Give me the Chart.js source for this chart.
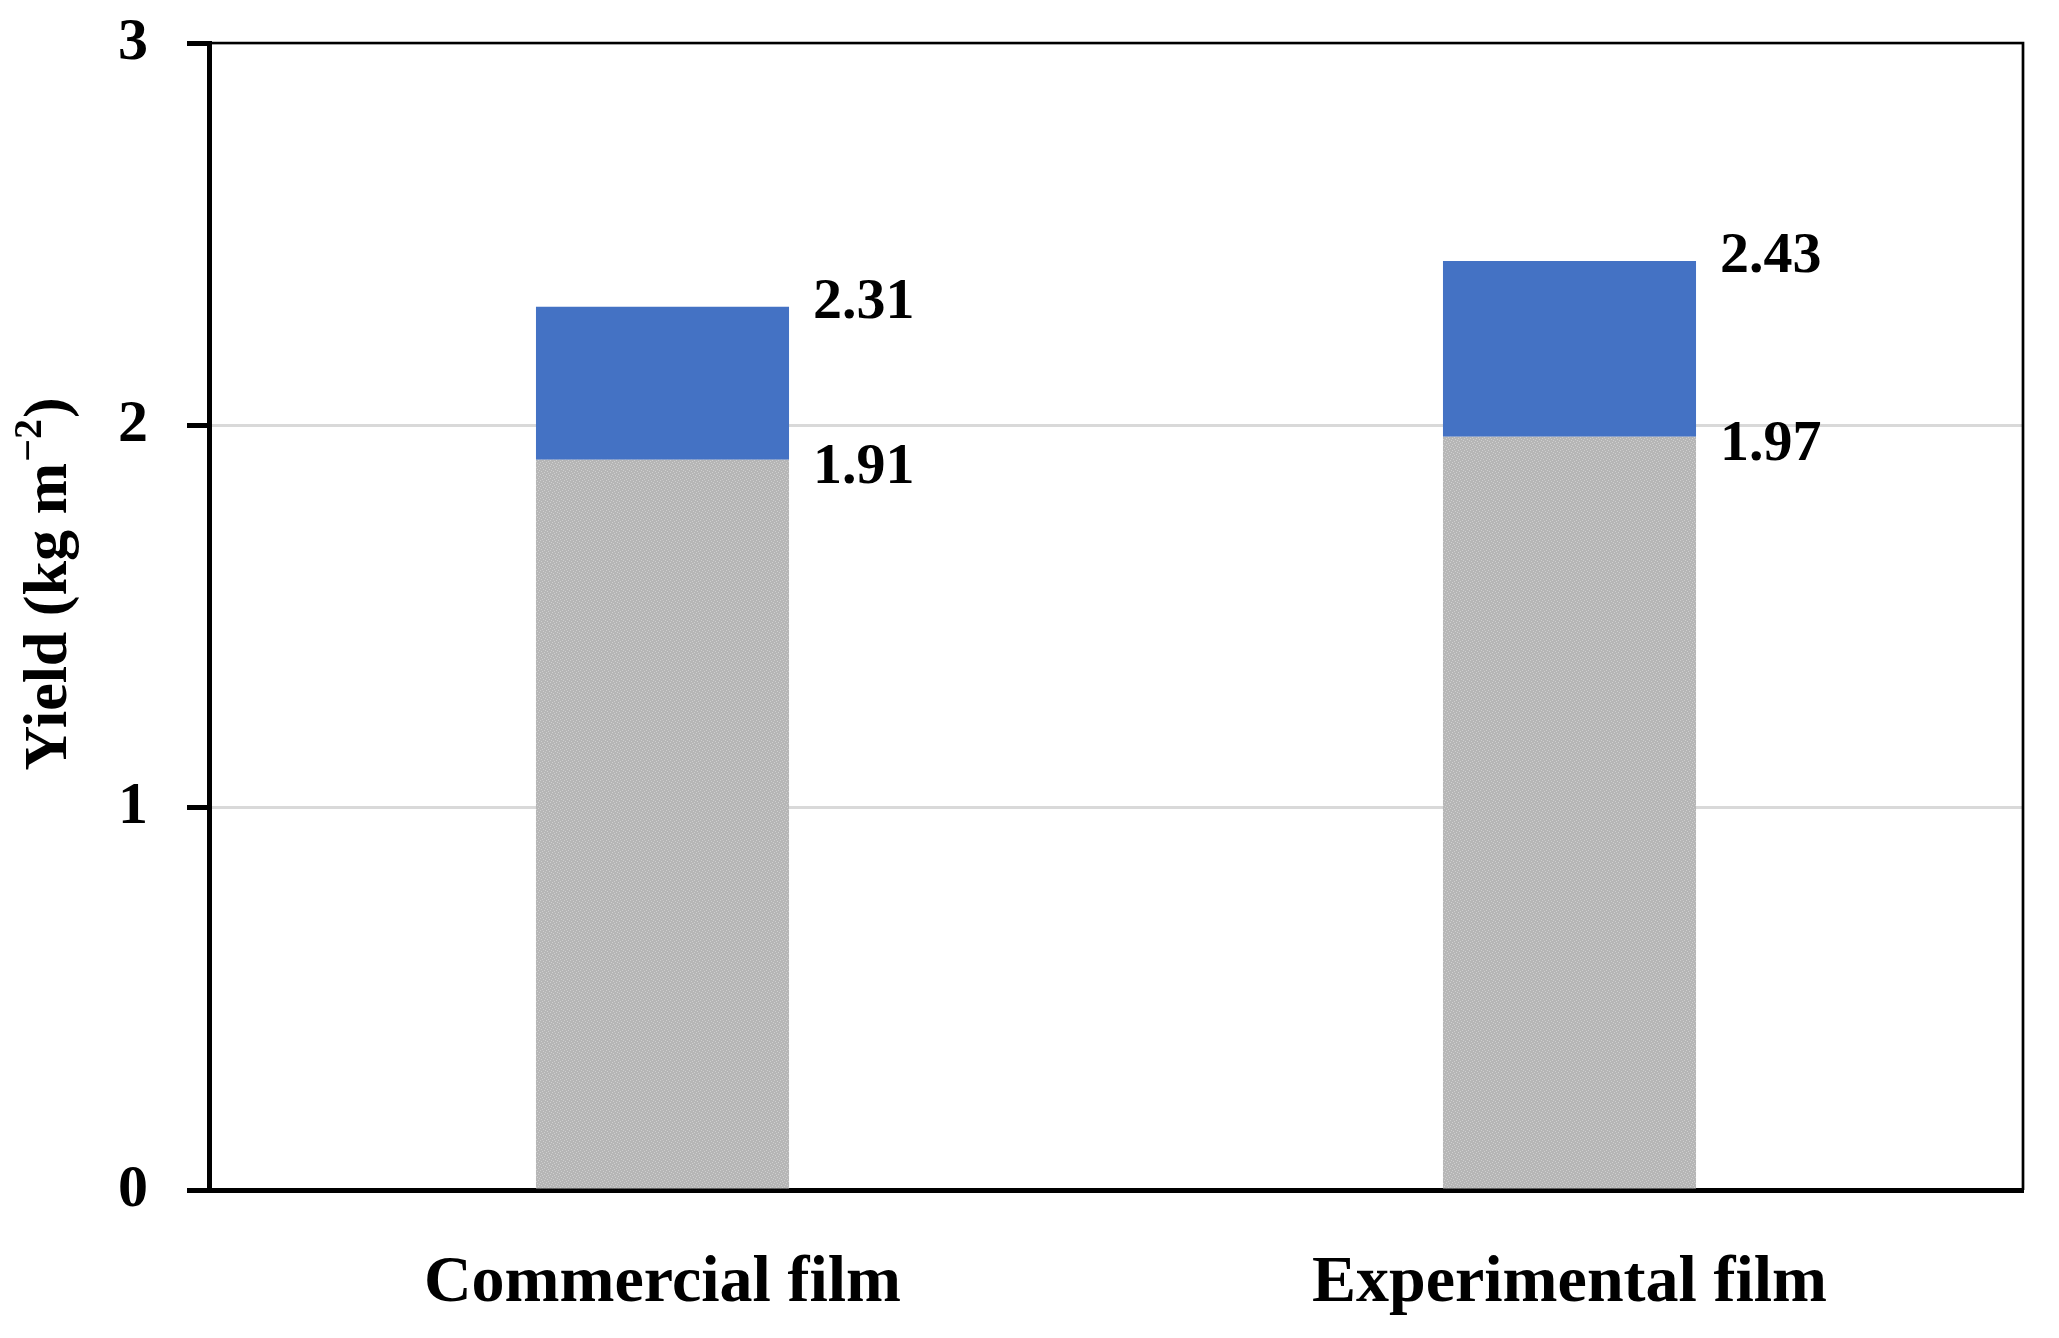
<!DOCTYPE html>
<html><head><meta charset="utf-8">
<script src="https://cdn.jsdelivr.net/npm/chart.js@4.4.1/dist/chart.umd.min.js"></script>
<style>html,body{margin:0;padding:0;background:#fff;} #wrap{width:2059px;height:1338px;}</style>
</head><body><div id="wrap"><canvas id="c" width="2059" height="1338"></canvas></div>
<script>
const categories = ['Commercial film', 'Experimental film'];
const baseYield = [1.91, 1.97];
const totalYield = [2.31, 2.43];
const yTicks = [0, 1, 2, 3];
const yTitleMain = 'Yield (kg m';
const yTitleSup = '\u22122';
const yTitleEnd = ')';

const SERIF = '"Liberation Serif", "Times New Roman", serif';

function grayPattern() {
  const p = document.createElement('canvas');
  p.width = 6; p.height = 6;
  const g = p.getContext('2d');
  g.fillStyle = '#b6b6b6'; g.fillRect(0, 0, 6, 6);
  g.fillStyle = '#cfcfcf';
  [[0,0],[3,1],[1,3],[4,4],[5,2],[2,5]].forEach(([x,y]) => g.fillRect(x, y, 1, 1));
  return document.getElementById('c').getContext('2d').createPattern(p, 'repeat');
}

const valueLabels = {
  id: 'valueLabels',
  afterDatasetsDraw(chart) {
    const ctx = chart.ctx, ys = chart.scales.y;
    ctx.save();
    ctx.font = 'bold 58px ' + SERIF;
    ctx.fillStyle = '#000';
    ctx.textAlign = 'left';
    ctx.textBaseline = 'middle';
    chart.data.datasets.forEach((ds, di) => {
      const meta = chart.getDatasetMeta(di);
      meta.data.forEach((bar, i) => {
        const v = Array.isArray(ds.data[i]) ? ds.data[i][1] : ds.data[i];
        const dy = di === 0 ? 8 : -4;
        ctx.fillText(v.toFixed(2), bar.x + bar.width / 2 + 24, ys.getPixelForValue(v) + dy);
      });
    });
    ctx.restore();
  }
};

const frame = {
  id: 'frame',
  afterDraw(chart) {
    const {ctx, chartArea: a} = chart;
    ctx.save();
    ctx.strokeStyle = '#000';
    ctx.lineWidth = 2.7;
    ctx.beginPath();
    ctx.moveTo(a.left, a.top); ctx.lineTo(a.right, a.top); ctx.lineTo(a.right, a.bottom);
    ctx.stroke();
    // y-axis title
    const cx = 66, cy = 584;
    ctx.fillStyle = '#000';
    ctx.textBaseline = 'alphabetic';
    ctx.textAlign = 'left';
    const fMain = 'bold 62px ' + SERIF, fSup = 'bold 40px ' + SERIF;
    ctx.font = fMain; const w1 = ctx.measureText(yTitleMain).width; const w3 = ctx.measureText(yTitleEnd).width;
    ctx.font = fSup; const w2 = ctx.measureText(yTitleSup).width;
    const total = w1 + w2 + w3 + 2;
    ctx.translate(cx, cy);
    ctx.rotate(-Math.PI / 2);
    let x = -total / 2;
    ctx.font = fMain; ctx.fillText(yTitleMain, x, 0); x += w1 + 1;
    ctx.font = fSup; ctx.fillText(yTitleSup, x, -25); x += w2 + 1;
    ctx.font = fMain; ctx.fillText(yTitleEnd, x, 0);
    ctx.restore();
  }
};

new Chart(document.getElementById('c'), {
  type: 'bar',
  data: {
    labels: categories,
    datasets: [
      { label: 'base', data: baseYield, backgroundColor: grayPattern(), grouped: false,
        barPercentage: 0.279, categoryPercentage: 1, borderWidth: 0 },
      { label: 'total', data: categories.map((c, i) => [baseYield[i], totalYield[i]]),
        backgroundColor: '#4472c4', grouped: false,
        barPercentage: 0.279, categoryPercentage: 1, borderWidth: 0 }
    ]
  },
  options: {
    responsive: false,
    animation: false,
    devicePixelRatio: 1,
    layout: { padding: { top: 43, right: 36, left: 0, bottom: 0 } },
    plugins: { legend: { display: false }, tooltip: { enabled: false } },
    scales: {
      x: {
        grid: { display: false },
        border: { display: true, color: '#000', width: 5 },
        ticks: { color: '#000', font: { family: SERIF, size: 66, weight: 'bold' }, padding: 46, maxRotation: 0 },
        afterFit(s) { s.height = 148; s.paddingLeft = 0; s.paddingRight = 0; }
      },
      y: {
        min: 0, max: 3,
        afterBuildTicks(s) { s.ticks = yTicks.map(v => ({ value: v })); },
        grid: { color: '#d9d9d9', lineWidth: 3, tickColor: '#000', tickWidth: 5, tickLength: 22 },
        border: { display: true, color: '#000', width: 5 },
        ticks: { color: '#000', font: { family: SERIF, size: 60, weight: 'bold' }, padding: 39 },
        afterFit(s) { s.width = 209; s.paddingTop = 0; s.paddingBottom = 0; }
      }
    }
  },
  plugins: [valueLabels, frame]
});
</script>
</body></html>
